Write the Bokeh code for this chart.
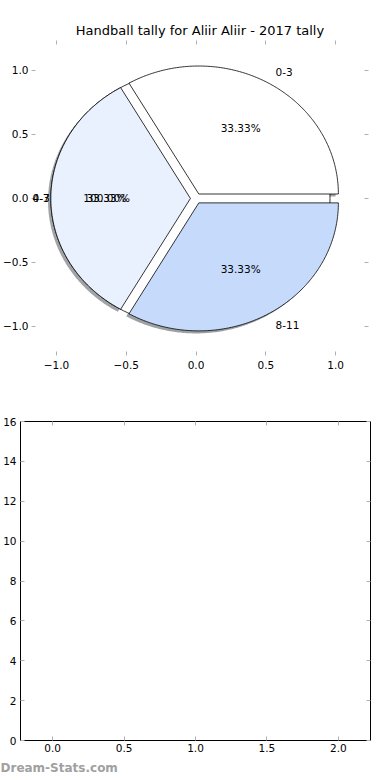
import numpy as np
from bokeh.plotting import figure
from bokeh.models import (Range1d, LinearAxis, FixedTicker, Title, Label,
                          CustomJSTickFormatter)
from bokeh.embed import file_html
from bokeh.resources import INLINE

# ---------------- data ----------------
title_text = "Handball tally for Aliir Aliir - 2017 tally"
categories = ["0-3", "4-7", "8-11"]
counts = [1, 1, 1]
wedge_colors = ["#ffffff", "#e9f1fe", "#c6dafc"]
overlay_categories = ["0-3"]
overlay_counts = [1]
pie_ticks = [-1.0, -0.5, 0.0, 0.5, 1.0]
bar_x_ticks = [0.0, 0.5, 1.0, 1.5, 2.0]
bar_y_ticks = [0, 2, 4, 6, 8, 10, 12, 14, 16]
watermark = "Dream-Stats.com"

FONT = "DejaVu Sans"
FS = "10.5px"
EXPLODE = 0.04
TICK_COLOR = "#b0b0b0"

fmt1 = "return tick.toFixed(1).replace('-', '\u2212');"
fmt_blank = "return '';"


def style_axis(ax, show_labels=True, standoff=4, code=fmt1):
    ax.axis_line_color = None
    ax.major_tick_in = 4
    ax.major_tick_out = 0
    ax.minor_tick_line_color = None
    ax.major_tick_line_color = TICK_COLOR
    ax.major_label_text_font = FONT
    ax.major_label_text_font_size = FS
    ax.major_label_text_color = "#000000"
    ax.major_label_standoff = standoff
    if show_labels:
        if code is not None:
            ax.formatter = CustomJSTickFormatter(code=code)
    else:
        ax.formatter = CustomJSTickFormatter(code=fmt_blank)
        ax.major_label_standoff = 0


# ---------------- top: pie ----------------
L_TOP, R_TOP = 30, 22
PX_PER_UNIT = 140.0
x_start = -(195 - L_TOP) / PX_PER_UNIT
top = figure(width=390, height=385, output_backend="svg", toolbar_location=None,
             x_range=Range1d(x_start, (390 - R_TOP - 195) / PX_PER_UNIT),
             y_range=Range1d(-1.227, 1.234),
             min_border_left=L_TOP, min_border_right=R_TOP, min_border_top=40,
             min_border_bottom=30)
top.outline_line_color = None
top.grid.visible = False
top.title.text = title_text
top.title.text_font = FONT
top.title.text_font_size = "13px"
top.title.text_font_style = "normal"
top.title.text_color = "#000000"
top.title.align = "center"
top.title.standoff = 6

top.add_layout(LinearAxis(), "above")
top.add_layout(LinearAxis(), "right")
for ax in top.xaxis:
    ax.ticker = FixedTicker(ticks=pie_ticks)
for ax in top.yaxis:
    ax.ticker = FixedTicker(ticks=pie_ticks)
style_axis(top.below[0], True, 5)
style_axis(top.left[0], True, 3)
style_axis(top.above[0], False)
style_axis(top.right[0], False)


def wedge_shapes(vals, explode):
    total = float(sum(vals))
    xs, ys, mids = [], [], []
    start = 0.0
    for v in vals:
        frac = v / total
        t1 = start * 2 * np.pi
        t2 = (start + frac) * 2 * np.pi
        mid = (t1 + t2) / 2
        cx, cy = explode * np.cos(mid), explode * np.sin(mid)
        ts = np.linspace(t1, t2, 180)
        if frac < 1.0:
            xs.append(np.concatenate([[cx], cx + np.cos(ts)]))
            ys.append(np.concatenate([[cy], cy + np.sin(ts)]))
        else:
            xs.append(cx + np.cos(ts))
            ys.append(cy + np.sin(ts))
        mids.append(mid)
        start += frac
    return xs, ys, mids, total


def shade(c):
    c = c.lstrip("#")
    r, g, b = (int(c[i:i + 2], 16) for i in (0, 2, 4))
    return "#%02x%02x%02x" % (int(r * 0.3), int(g * 0.3), int(b * 0.3))


xs, ys, mids, total = wedge_shapes(counts, EXPLODE)
oxs, oys, omids, ototal = wedge_shapes(overlay_counts, EXPLODE)

# shadows of the main pie
sh_x = [x - 0.02 for x in xs]
sh_y = [y - 0.02 for y in ys]
top.patches(sh_x, sh_y, fill_color=[shade(c) for c in wedge_colors], fill_alpha=0.5,
            line_color=None)
# overlay full-circle pie
top.patches(oxs, oys, fill_color="#ffffff", line_color="#000000", line_width=0.8)
# main wedges
top.patches(xs, ys, fill_color=wedge_colors, line_color="#000000", line_width=0.8)


def add_text(x, y, text, align):
    top.add_layout(Label(x=float(x), y=float(y), text=text, text_align=align,
                         text_baseline="middle", text_font=FONT, text_font_size=FS,
                         text_color="#000000"))


def add_cat_label(r, m, cat):
    x, y = r * np.cos(m), r * np.sin(m)
    if np.cos(m) > 0:
        add_text(x, y, cat, "left")
    else:
        # keep the label inside the plotting frame (it would be clipped otherwise)
        add_text(max(x - 0.125, x_start + 1.0 / PX_PER_UNIT), y, cat, "left")


for cat, v, m in zip(overlay_categories, overlay_counts, omids):
    add_cat_label(EXPLODE + 1.1, m, cat)
    r2 = EXPLODE + 0.6
    add_text(r2 * np.cos(m), r2 * np.sin(m), "%.2f%%" % (100.0 * v / ototal), "center")
for cat, v, m in zip(categories, counts, mids):
    add_cat_label(EXPLODE + 1.1, m, cat)
    r2 = EXPLODE + 0.6
    add_text(r2 * np.cos(m), r2 * np.sin(m), "%.2f%%" % (100.0 * v / total), "center")

# ---------------- bottom: empty axes ----------------
bot = figure(width=390, height=395, output_backend="svg", toolbar_location=None,
             x_range=Range1d(-0.225, 2.225), y_range=Range1d(0, 16),
             min_border_left=20, min_border_right=20, min_border_top=36,
             min_border_bottom=40)
bot.outline_line_color = "#000000"
bot.outline_line_width = 1
bot.grid.visible = False
bot.add_layout(LinearAxis(), "above")
bot.add_layout(LinearAxis(), "right")
for ax in bot.xaxis:
    ax.ticker = FixedTicker(ticks=bar_x_ticks)
for ax in bot.yaxis:
    ax.ticker = FixedTicker(ticks=bar_y_ticks)
style_axis(bot.below[0], True, 3)
style_axis(bot.left[0], True, 4, code=None)
style_axis(bot.above[0], False)
style_axis(bot.right[0], False)

wm = Title(text=watermark, align="left", text_font=FONT, text_font_size="12px",
           text_font_style="bold", text_color="#a0a0a0", offset=-20, standoff=9)
bot.add_layout(wm, "below")

open("out.html", "w").write(file_html([top, bot], INLINE))
